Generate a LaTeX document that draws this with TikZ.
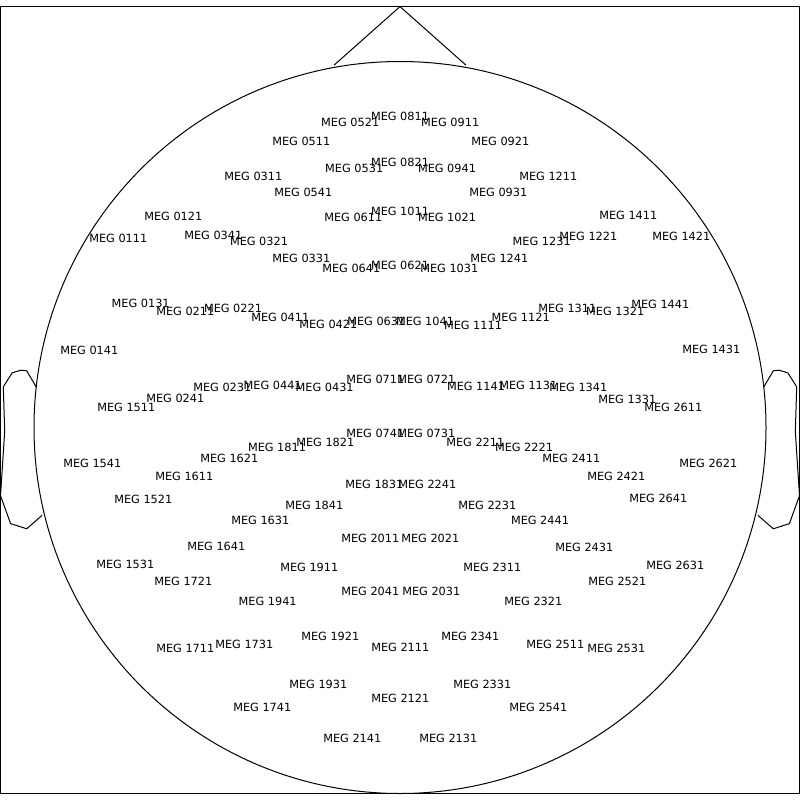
\documentclass[tikz,border=0pt]{standalone}
\usepackage{fontspec}
\setmainfont{DejaVu Sans}
\begin{document}
\begin{tikzpicture}[x=1pt,y=-1pt,
  outline/.style={draw=black,line width=1pt,line join=round},
  sensor/.style={font=\fontsize{11.3}{13}\selectfont,inner sep=0pt,text height=8.2pt,text depth=0pt,anchor=center,yshift=-0.8pt}]
\useasboundingbox (0,0) rectangle (800,800);
% axes frame
\draw[line width=1pt] (0.5,6.6) rectangle (799.5,793.5);
% head
\draw[outline] (400,427.5) circle[radius=366];
% nose
\coordinate (noseL) at (334,65.2);
\coordinate (noseT) at (400,6.6);
\coordinate (noseR) at (466,65.2);
\draw[outline] (noseL) -- (noseT) -- (noseR);
% ears
\draw[outline] (36.2,386.9) -- (26.7,370.8) -- (20.8,370.2) -- (12.1,372.9) -- (3.3,386.9) -- (4.7,431.5) -- (0.5,495.7) -- (10.6,523.6) -- (26.7,528.8) -- (42.1,515.3);
\draw[outline] (763.8,386.9) -- (773.3,370.8) -- (779.2,370.2) -- (787.9,372.9) -- (796.7,386.9) -- (795.3,431.5) -- (799.5,495.7) -- (789.4,523.6) -- (773.3,528.8) -- (757.9,515.3);
% sensors
\foreach \n/\x/\y in {
0811/400/115.7, 0521/350.2/121.7, 0911/450.2/121.7, 0511/301.3/140.7, 0921/500.3/140.7,
0821/400/161.7, 0531/354.2/167.7, 0941/447/167.7, 0311/253.3/175.7, 1211/548.3/175.7,
0541/303.3/191.3, 0931/498.3/191.3, 1011/400/210.3, 0611/353.3/216.7, 1021/447/216.7,
0121/173.3/215.7, 1411/628.3/214.7, 0111/118.3/237.3, 0341/213.3/235, 1221/588.3/235.7,
1421/681.3/235.7, 0321/259/240.7, 1231/541.7/240.7, 0331/301.3/257.7, 1241/499.3/257.7,
0641/351.3/267.7, 0621/400/264.7, 1031/449.3/267.7,
0131/140.7/302.3, 0211/185.3/310.7, 0221/233/308, 0411/280.3/316.7, 0421/328.3/323.7,
0631/376.3/320.7, 1041/425/320.7, 1111/473/324.3, 1121/520.7/316.7, 1311/567.3/307.7,
1321/615.2/310.7, 1441/660.3/303.3, 0141/89.3/349.7, 1431/711.3/348.7,
0711/375.3/378.7, 0721/426.3/378.7, 0231/222.3/386.7, 0441/272.7/384.7, 0431/324.7/386.7,
1141/476/385.7, 1131/528.3/384.7, 1341/578.3/386.7, 0241/175.3/397.7, 1331/627.3/398.3,
1511/126.3/406.7, 2611/673.3/406.7, 0741/375.3/432.7, 0731/426.3/432.7,
1811/277/446.7, 1821/325.3/441.7, 2211/475.3/441.7, 2221/524/446.7,
1621/229.3/457.7, 2411/571.3/457.7, 1541/92.3/462.7, 2621/708.3/462.7,
1611/184.3/475.7, 2421/616.3/475.7, 1831/374.3/483.3, 2241/427.3/483.3,
1521/143.3/498.7, 2641/658.3/497.7, 1841/314.3/504.7, 2231/487.3/504.7,
1631/260.3/520, 2441/540/520, 2011/370.3/537.7, 2021/430.3/537.7,
1641/216.3/545.7, 2431/584.3/546.7, 1531/125.3/563.7, 2631/675.3/564.7,
1911/309.3/566.7, 2311/492.3/566.7, 1721/183.3/580.7, 2521/617.3/580.7,
2041/370.3/590.7, 2031/431.3/590.7, 1941/267.7/600.3, 2321/533.3/600.3,
1921/330.3/635.7, 2341/470.3/635.7, 1731/244.3/644, 2511/555.3/644,
1711/185.3/647.3, 2531/616.3/647.3, 2111/400.3/646.7,
1931/318.3/683.3, 2331/482.3/683.3, 2121/400.3/697.7, 1741/262.3/706.7, 2541/538.3/706.7,
2141/352.3/737.7, 2131/448.3/737.7}
  \node[sensor] (m\n) at (\x,\y) {MEG \n};
\end{tikzpicture}
\end{document}
